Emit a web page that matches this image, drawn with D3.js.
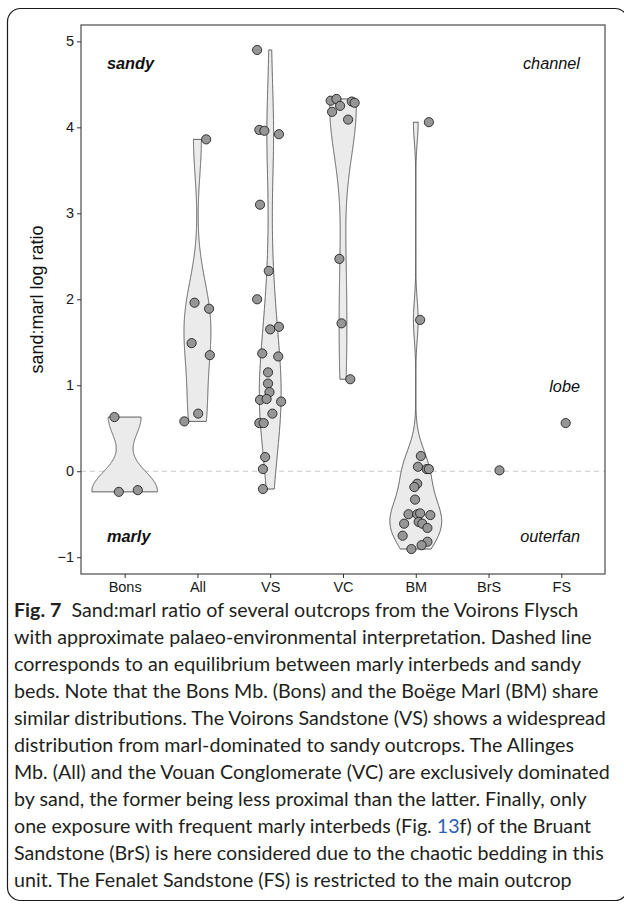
<!DOCTYPE html>
<html><head><meta charset="utf-8">
<script src="https://cdn.jsdelivr.net/npm/d3@7/dist/d3.min.js"></script>
<style>body{margin:0;background:#fff} svg{display:block}</style>
</head><body>
<svg id="chart" width="624" height="904"></svg>
<script>
// ---------------- data ----------------
const categories = ["Bons", "All", "VS", "VC", "BM", "BrS", "FS"];
const yTicks = [-1, 0, 1, 2, 3, 4, 5];

const ratioBons = [0.63, -0.24, -0.22];
const ratioAll  = [3.86, 1.96, 1.89, 1.49, 1.35, 0.67, 0.58];
const ratioVS   = [4.90, 3.97, 3.96, 3.92, 3.10, 2.33, 2.00, 1.65, 1.68, 1.37, 1.335, 1.15, 1.02, 0.92, 0.83, 0.84, 0.81, 0.67, 0.56, 0.56, 0.165, 0.025, -0.207];
const ratioVC   = [4.31, 4.33, 4.25, 4.18, 4.30, 4.285, 4.09, 2.47, 1.72, 1.07];
const ratioBM   = [4.06, 1.76, 0.177, 0.052, 0.025, 0.025, -0.145, -0.184, -0.33, -0.50, -0.50, -0.49, -0.51, -0.61, -0.59, -0.61, -0.66, -0.75, -0.82, -0.86, -0.905];
const ratioBrS  = [0.01];
const ratioFS   = [0.56];

// horizontal jitter of each point, in category units
const jitterBons = [-0.14, -0.08, 0.18];
const jitterAll  = [0.12, -0.04, 0.16, -0.08, 0.17, 0.01, -0.18];
const jitterVS   = [-0.18, -0.15, -0.08, 0.12, -0.14, -0.02, -0.18, 0.0, 0.12, -0.11, 0.11, -0.03, -0.03, -0.01, -0.14, -0.05, 0.15, 0.03, -0.15, -0.09, -0.07, -0.10, -0.10];
const jitterVC   = [-0.17, -0.09, -0.04, -0.15, 0.12, 0.16, 0.07, -0.05, -0.02, 0.10];
const jitterBM   = [0.18, 0.06, 0.07, 0.03, 0.15, 0.18, 0.02, -0.02, -0.01, -0.10, 0.02, 0.06, 0.20, -0.16, 0.04, 0.09, 0.16, -0.18, 0.16, 0.08, -0.06];
const jitterBrS  = [0.15];
const jitterFS   = [0.06];

const annotations = [
  {text: "sandy",    side: "left",  y: 4.74, bold: true},
  {text: "channel",  side: "right", y: 4.74, bold: false},
  {text: "lobe",     side: "right", y: 0.99, bold: false},
  {text: "outerfan", side: "right", y: -0.76, bold: false},
  {text: "marly",    side: "left",  y: -0.76, bold: true}
];

const captionLines = [
  [["Fig. 7", "b"], ["  Sand:marl ratio of several outcrops from the Voirons Flysch", ""]],
  [["with approximate palaeo-environmental interpretation. Dashed line", ""]],
  [["corresponds to an equilibrium between marly interbeds and sandy", ""]],
  [["beds. Note that the Bons Mb. (Bons) and the Boëge Marl (BM) share", ""]],
  [["similar distributions. The Voirons Sandstone (VS) shows a widespread", ""]],
  [["distribution from marl-dominated to sandy outcrops. The Allinges", ""]],
  [["Mb. (All) and the Vouan Conglomerate (VC) are exclusively dominated", ""]],
  [["by sand, the former being less proximal than the latter. Finally, only", ""]],
  [["one exposure with frequent marly interbeds (Fig. ", ""], ["13", "link"], ["f) of the Bruant", ""]],
  [["Sandstone (BrS) is here considered due to the chaotic bedding in this", ""]],
  [["unit. The Fenalet Sandstone (FS) is restricted to the main outcrop", ""]]
];

// ---------------- build ----------------
const groups = [
  {cat: "Bons", vals: ratioBons, jit: jitterBons},
  {cat: "All",  vals: ratioAll,  jit: jitterAll},
  {cat: "VS",   vals: ratioVS,   jit: jitterVS},
  {cat: "VC",   vals: ratioVC,   jit: jitterVC},
  {cat: "BM",   vals: ratioBM,   jit: jitterBM},
  {cat: "BrS",  vals: ratioBrS,  jit: jitterBrS},
  {cat: "FS",   vals: ratioFS,   jit: jitterFS}
];

const svg = d3.select("#chart");
const panel = {left: 81, top: 25, right: 605, bottom: 574};
const sans = "'Liberation Sans', Arial, Helvetica, sans-serif";

// outer frame (right edge runs just past the page)
svg.append("rect")
  .attr("x", 7.5).attr("y", 8.5).attr("width", 620.5).attr("height", 892)
  .attr("rx", 13).attr("fill", "none").attr("stroke", "#1a1a1a").attr("stroke-width", 1.2);

const allVals = groups.flatMap(g => g.vals);
const ext = d3.extent(allVals);
const pad = (ext[1] - ext[0]) * 0.05;
const y = d3.scaleLinear().domain([ext[0] - pad, ext[1] + pad]).range([panel.bottom, panel.top]);
const x = d3.scalePoint().domain(categories).range([panel.left, panel.right]).padding(0.6);
const step = x.step();

// dashed reference line
svg.append("line")
  .attr("x1", panel.left).attr("x2", panel.right)
  .attr("y1", y(0)).attr("y2", y(0))
  .attr("stroke", "#c4c4c4").attr("stroke-width", 0.9).attr("stroke-dasharray", "5,4");

// violins (gaussian KDE, nrd0 bandwidth, trimmed, scale = area)
function bwNrd0(v) {
  const s = d3.sort(v);
  const sd = d3.deviation(s);
  const iqr = d3.quantile(s, 0.75) - d3.quantile(s, 0.25);
  let lo = Math.min(sd, iqr / 1.34);
  if (!(lo > 0)) lo = sd || 1;
  return 0.9 * lo * Math.pow(s.length, -0.2);
}
const dens = groups.filter(g => g.vals.length > 1).map(g => {
  const bw = bwNrd0(g.vals);
  const [lo, hi] = d3.extent(g.vals);
  const n = 512;
  const pts = d3.range(n).map(i => {
    const t = lo + (hi - lo) * i / (n - 1);
    const d = d3.mean(g.vals, v => Math.exp(-0.5 * ((t - v) / bw) ** 2)) / (bw * Math.sqrt(2 * Math.PI));
    return {t, d};
  });
  return {cat: g.cat, pts};
});
const maxD = d3.max(dens, g => d3.max(g.pts, p => p.d));
const area = d3.area().y(p => y(p.t));
dens.forEach(g => {
  const cx = x(g.cat);
  area.x0(p => cx - p.d / maxD * 0.45 * step).x1(p => cx + p.d / maxD * 0.45 * step);
  svg.append("path")
    .attr("d", area(g.pts))
    .attr("fill", "#ebebeb").attr("stroke", "#4d4d4d").attr("stroke-width", 0.9)
    .attr("stroke-linejoin", "round");
});

// points
groups.forEach(g => {
  svg.append("g").selectAll("circle").data(g.vals).join("circle")
    .attr("cx", (v, i) => x(g.cat) + g.jit[i] * step)
    .attr("cy", v => y(v))
    .attr("r", 4.6)
    .attr("fill", "#969696").attr("stroke", "#111").attr("stroke-width", 0.8);
});

// panel border
svg.append("rect")
  .attr("x", panel.left).attr("y", panel.top)
  .attr("width", panel.right - panel.left).attr("height", panel.bottom - panel.top)
  .attr("fill", "none").attr("stroke", "#595959").attr("stroke-width", 1.3);

// axes
const yAxis = svg.append("g").attr("transform", `translate(${panel.left},0)`)
  .call(d3.axisLeft(y).tickValues(yTicks).tickSize(4).tickPadding(3).tickFormat(d => d < 0 ? "\u2212" + Math.abs(d) : d));
const xAxis = svg.append("g").attr("transform", `translate(0,${panel.bottom})`)
  .call(d3.axisBottom(x).tickSize(4).tickPadding(4));
[yAxis, xAxis].forEach(a => {
  a.select(".domain").remove();
  a.selectAll(".tick line").attr("stroke", "#333").attr("stroke-width", 1);
  a.selectAll(".tick text").attr("fill", "#1a1a1a").style("font-family", sans).style("font-size", "14.5px");
});

// y axis title
svg.append("text")
  .attr("transform", `translate(42.5,${(panel.top + panel.bottom) / 2}) rotate(-90)`)
  .attr("text-anchor", "middle")
  .style("font-family", sans).style("font-size", "18px")
  .attr("fill", "#111").text("sand:marl log ratio");

// annotations
annotations.forEach(a => {
  svg.append("text")
    .attr("x", a.side === "left" ? panel.left + 26 : panel.right - 25)
    .attr("y", y(a.y)).attr("dy", "0.35em")
    .attr("text-anchor", a.side === "left" ? "start" : "end")
    .style("font-family", sans).style("font-size", "16.3px")
    .style("font-style", "italic").style("font-weight", a.bold ? "bold" : "normal")
    .attr("fill", "#111").text(a.text);
});

// caption
const capX = 14, capTop = 617, capLead = 27, capWidth = 596;
const cap = svg.append("g").style("font-family", "Lato, 'Open Sans', sans-serif").style("font-size", "17px").attr("fill", "#231f20");
const lineNodes = captionLines.map((parts, i) => {
  const t = cap.append("text").attr("x", capX).attr("y", capTop + i * capLead).attr("xml:space", "preserve").style("white-space", "pre");
  parts.forEach(([s, k]) => {
    const ts = t.append("tspan").text(s);
    if (k === "b") ts.style("font-weight", "bold");
    if (k === "link") ts.attr("fill", "#2f5fb3");
  });
  return t;
});
const maxW = d3.max(lineNodes, t => t.node().getComputedTextLength());
cap.style("font-size", (17 * capWidth / maxW).toFixed(2) + "px");
</script>
</body></html>
